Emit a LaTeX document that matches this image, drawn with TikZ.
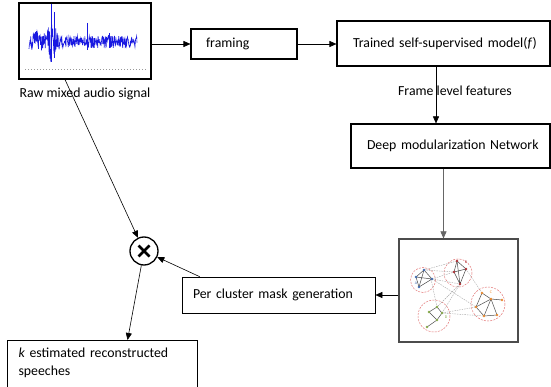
\documentclass[tikz,border=0pt]{standalone}
\usepackage{fontspec}
\setmainfont{Carlito}
\usetikzlibrary{arrows.meta,positioning}
\definecolor{wave}{RGB}{25,25,225}
\definecolor{clA}{RGB}{70,110,180}
\definecolor{clB}{RGB}{175,50,55}
\definecolor{clC}{RGB}{235,140,50}
\definecolor{clD}{RGB}{135,170,75}
\definecolor{ring}{RGB}{228,120,120}
\begin{document}
\begin{tikzpicture}[x=1pt,y=-1pt,
  every node/.style={font=\fontsize{13.8}{18}\selectfont},
  box/.style={draw, line width=1.1pt, align=left, inner xsep=0pt, inner ysep=0pt},
  arr/.style={-{Triangle[length=7pt,width=6pt]}, line width=0.6pt},
  dot/.style={circle, fill, inner sep=0pt, minimum size=2.6pt},
  inedge/.style={black!70, line width=0.5pt},
  crossedge/.style={black!35, dashed, line width=0.4pt, dash pattern=on 1.5pt off 1pt},
  cluster/.style={ring, dashed, line width=0.5pt, dash pattern=on 2pt off 1.2pt}]
\clip (0,0) rectangle (551,387);
\fill[white] (0,0) rectangle (551,387);

% audio input
\node[draw, line width=1.1pt, minimum width=132pt, minimum height=76pt] (audio) at (85,41) {};
\node[below=5pt of audio] (audiolbl) {Raw mixed audio signal};
\begin{scope}
  \pgfmathsetseed{11}
  \draw[wave, line width=0.6pt, domain=29:137, samples=320] plot (\x,{42 + (6 + 14*exp(-((\x-52)/5)^2) + 6*exp(-((\x-37)/7)^2))*(2*rnd-1)});
  \draw[wave, line width=0.7pt] (51,4) -- (51,62);
  \draw[wave, line width=0.6pt] (54,12) -- (54,58);
  \draw[wave, line width=0.6pt] (87,23) -- (87,50);
  \draw[wave, line width=0.6pt] (109,33) -- (109,48);
  \draw[black!40, dotted, line width=1pt] (25,70) -- (147,70);
\end{scope}

% processing chain
\node[box, minimum height=30pt, text width=106pt] (framing) at (244,44) {\hspace*{15pt}framing};
\node[box, minimum height=45pt, text width=213pt] (trained) at (443.5,43.5) {\hspace*{16pt}Trained self-supervised model(\textit{f})};
\node[box, minimum height=44pt, text width=199pt] (deep) at (450.5,146) {\hspace*{16pt}Deep modularization Network};
\node[draw, line width=1.1pt, draw=black!70, minimum width=119pt, minimum height=103pt] (graph) at (458.5,290.5) {};
\node[box, line width=0.7pt, minimum height=36pt, text width=193pt] (mask) at (278.5,295) {\hspace*{11pt}Per cluster mask generation};
\node[circle, draw, line width=1.3pt, minimum size=28pt, inner sep=0pt] (mult) at (144,251) {};
\draw[line width=2.6pt] ([shift={(-5.5,-5.5)}]mult.center) -- ([shift={(5.5,5.5)}]mult.center);
\draw[line width=2.6pt] ([shift={(-5.5,5.5)}]mult.center) -- ([shift={(5.5,-5.5)}]mult.center);
\node[box, anchor=north west, text width=168pt, inner xsep=11pt, inner ysep=7.5pt] (recon) at (7,340)
  {\textit{k} estimated reconstructed\\ speeches\rule[-30pt]{0pt}{1pt}};

% clusters inside the graph box
\begin{scope}
  \draw[cluster] (423,280) circle (12.5);
  \draw[cluster] (458,273) circle (14);
  \draw[cluster] (488,304) circle (17);
  \draw[cluster] (434,316) circle (16);
  % edges between clusters
  \draw[crossedge] (424,270) -- (457,261);
  \draw[crossedge] (432,279) -- (454,272);
  \draw[crossedge] (432,279) -- (460,284);
  \draw[crossedge] (424,270) -- (454,272);
  \draw[crossedge] (466,269) -- (482,293);
  \draw[crossedge] (460,284) -- (437,307);
  \draw[crossedge] (460,284) -- (442,313);
  \draw[crossedge] (432,279) -- (476,307);
  \draw[crossedge] (442,313) -- (476,307);
  \draw[crossedge] (431,279) -- (437,307);
  \draw[crossedge] (442,313) -- (484,316);
  % cluster A
  \draw[inedge] (416,277) -- (424,270) -- (432,279) -- (419,287) -- (416,277) -- (432,279);
  \draw[inedge] (424,270) -- (419,287);
  \foreach \p in {(416,277),(424,270),(432,279),(419,287)} \node[dot, clA] at \p {};
  \node[clA, font=\fontsize{4}{4}\selectfont, inner sep=0pt] (labA) at (416,283) {A};
  % cluster B
  \draw[inedge] (457,261) -- (466,269) -- (460,284) -- (454,272) -- (457,261) -- (460,284);
  \draw[inedge] (454,272) -- (466,269);
  \foreach \p in {(457,261),(466,269),(454,272),(460,284)} \node[dot, clB] at \p {};
  \node[clB, font=\fontsize{4}{4}\selectfont, inner sep=0pt] (labB) at (466,262) {B};
  % cluster C
  \draw[inedge] (482,293) -- (491,299) -- (502,300);
  \draw[inedge] (482,293) -- (476,307) -- (491,299) -- (484,316) -- (476,307);
  \draw[inedge] (491,299) -- (497,315) -- (484,316);
  \foreach \p in {(482,293),(491,299),(502,300),(476,307),(484,316),(497,315)} \node[dot, clC] at \p {};
  \node[clC, font=\fontsize{4}{4}\selectfont, inner sep=0pt] (labC) at (491,292) {C};
  % cluster D
  \draw[inedge] (437,307) -- (429,312) -- (437,320) -- (442,313) -- (437,307);
  \draw[inedge] (437,320) -- (427,327);
  \foreach \p in {(437,307),(429,312),(442,313),(437,320),(427,327)} \node[dot, clD] at \p {};
  \node[clD, font=\fontsize{4}{4}\selectfont, inner sep=0pt] (labD) at (446,317) {D};
\end{scope}

% connectors
\draw[arr] (audio.east |- framing.west) -- (framing.west);
\draw[arr] (framing.east) -- (trained.west |- framing.east);
\draw[arr] ([xshift=-7.5pt]trained.south) -- node[pos=0.43, xshift=19pt] (featlbl) {Frame level features} ([xshift=-14.5pt]deep.north);
\draw[arr, black!60] ([xshift=-7pt]deep.south) -- ([xshift=-15pt]graph.north);
\draw[arr] (graph.west |- mask.east) -- (mask.east);
\draw[arr] ([xshift=18pt]mask.north west) -- (mult);
\draw[arr] ([xshift=-20pt]audio.south) -- (mult);
\draw[arr] (mult) -- ([xshift=25pt]recon.north);
\end{tikzpicture}
\end{document}
